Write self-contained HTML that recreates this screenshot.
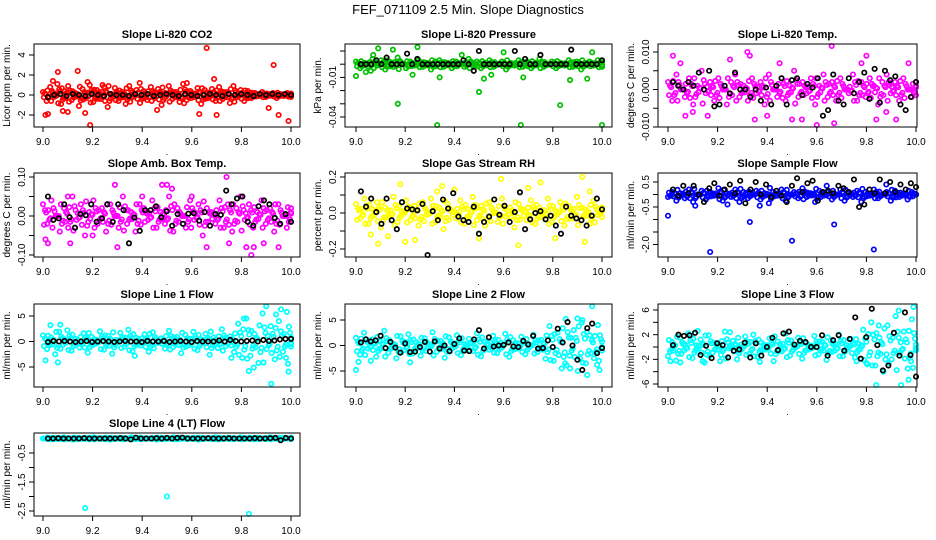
<!DOCTYPE html>
<html><head><meta charset="utf-8"><style>
html,body{margin:0;padding:0;background:#fff;}
svg{display:block;font-family:"Liberation Sans",Arial,sans-serif;}
</style></head><body>
<svg id="c" width="936" height="540" viewBox="0 0 936 540">
<text x="468" y="14" text-anchor="middle" font-size="13">FEF_071109  2.5 Min. Slope Diagnostics</text>
</svg>
<script>
// ---- data ----
const xTicks=[9.0,9.2,9.4,9.6,9.8,10.0];
const xTickLabels=["9.0","9.2","9.4","9.6","9.8","10.0"];
const titles=["Slope Li-820 CO2","Slope Li-820 Pressure","Slope Li-820 Temp.","Slope Amb. Box Temp.","Slope Gas Stream RH","Slope Sample Flow","Slope Line 1 Flow","Slope Line 2 Flow","Slope Line 3 Flow","Slope Line 4 (LT) Flow"];
const yLabels=["Licor ppm per min.","kPa per min.","degrees C per min.","degrees C per min.","percent per min.","ml/min per min.","ml/min per min.","ml/min per min.","ml/min per min.","ml/min per min."];
const colors=["#ff0000","#00c000","#ff00ff","#ff00ff","#ffff00","#0000ff","#00ffff","#00ffff","#00ffff","#00ffff"];
const yTicks=[[-2,0,2,4],[-0.04,-0.03,-0.02,-0.01,0,0.01],[-0.01,-0.005,0,0.005,0.01],[-0.1,-0.05,0,0.05,0.1],[-0.2,-0.1,0,0.1,0.2],[-2,-1.5,-1,-0.5,0,0.5],[-5,0,5],[-5,0,5],[-6,-4,-2,0,2,4,6],[-2.5,-2,-1.5,-1,-0.5]];
const yTickLabels=[["-2","0","2","4"],["-0.04","","","-0.01","",""],["-0.010","","0.000","","0.010"],["-0.10","","0.00","","0.10"],["-0.2","","0.0","","0.2"],["-2.0","","","-0.5","","0.5"],["-5","0","5"],["-5","0","5"],["-6","","-2","","2","","6"],["-2.5","","-1.5","","-0.5"]];

const co2Vals=[0.3,-0.6,0.8,-0.2,1.1,-0.9,0.4,0.9,-0.5,0.2,-1.1,0.6,-0.3,1.0,-0.7,0.5,-0.4,0.8,-1.2,0.1,0.7,-0.6,0.3,-0.9,0.9,-0.2,0.5,-0.8,0.4,-0.5,0.8,-0.3,0.6,-1.0,0.2,0.9,-0.4,0.3,-0.7,1.1,-0.5,0.4,-0.2,0.7,-0.9,0.5,-0.3,0.6,-0.6,0.8,-0.4,0.3,-0.8,0.9,-0.2,0.5,-0.6,0.4,-0.3,0.2,-0.1,0.3,-0.2,0.1,0.2,-0.3,0.1,-0.1,0.2,-0.2];
const co2OutX=[9.01,9.02,9.06,9.08,9.14,9.17,9.19,9.18,9.46,9.63,9.66,9.69,9.70,9.91,9.93,9.95,9.99,9.04,9.10,9.24,9.39,9.58];
const co2OutY=[-2.0,-1.9,2.3,-1.6,2.4,-1.8,-3.1,1.3,-1.5,-1.9,4.7,1.6,-2.0,-1.3,3.0,-2.0,-2.6,1.4,-1.7,1.0,1.2,1.2];
const co2Black=[-0.2,0,0.1,-0.1,0.1,0,-0.1,0.1,0,-0.1,0.1,0,0,-0.1,0.1,0,0.1,-0.1,0,0.1,0,-0.1,0.1,0,-0.1,0,0.1,0,-0.1,0.1,0,0.1,0,-0.1,0.1,0,0.1,0,0.1,0];

const presVals=[0.002,-0.003,0.001,-0.002,0.004,-0.001,0.003,-0.004,0.002,-0.002,0.005,0,-0.003,0.002,-0.001,0.003,-0.002,0.001,-0.004,0.002,0.003,-0.002,0.001,-0.003,0.002,0,-0.002,0.004,-0.001,0.002,-0.003,0.001,0.003,-0.002,0,0.002,-0.004,0.001,-0.001,0.003,-0.002,0.002,-0.003,0.001,0.004,-0.002,0,0.002,-0.003,0.001,-0.001,0.003,-0.002,0.002,-0.004,0.001,0.002,-0.001,0.003,-0.002];
const presOutX=[9.0,9.04,9.07,9.09,9.15,9.17,9.23,9.25,9.33,9.34,9.5,9.52,9.67,9.68,9.83,9.87,9.94,9.96,10.0,9.43,9.6,9.06,9.55];
const presOutY=[-0.009,-0.006,0.007,0.012,0.011,-0.03,-0.008,0.013,-0.048,-0.01,-0.021,-0.011,-0.048,-0.01,-0.031,-0.012,-0.011,0.009,-0.048,0.007,0.009,-0.005,-0.008];
const presBlack=[0,0,0,0.003,0,0.005,0,0,0,0.008,0,0.004,0,0,0,0,0,0,0,0,0.003,0,-0.005,0.01,0,0,0,0,0,0,0.01,0,0.004,0,0,0.007,0,0,0,0,0,0.011,0,0,0,0,0,0.003];

const tempVals=[0.002,-0.003,0.004,0,-0.002,0.003,-0.004,0.001,0.005,-0.001,0.002,-0.003,0.003,0,-0.004,0.002,0.004,-0.002,0.001,-0.003,0.003,-0.001,0.002,-0.004,0.004,0,-0.002,0.003,-0.003,0.001,0.005,-0.002,0.002,-0.001,0.003,-0.004,0.001,0.004,-0.002,0.002,-0.003,0.003,0,-0.001,0.004,-0.003,0.002,-0.002,0.003,0.001,-0.004,0.002,0.004,-0.001,0.002,-0.003,0.003,0,-0.002,0.002];
const tempOutX=[9.02,9.05,9.07,9.16,9.32,9.33,9.35,9.4,9.5,9.54,9.6,9.66,9.67,9.78,9.8,9.84,9.92,9.97,9.1,9.25,9.45,9.88];
const tempOutY=[0.009,0.007,-0.007,-0.007,0.01,0.009,-0.008,-0.007,-0.008,-0.008,-0.01,0.012,-0.009,0.007,0.009,-0.008,-0.008,0.007,-0.006,0.008,0.007,-0.006];
const tempBlack=[0.002,0.001,0,0.002,0.001,0.0045,0,0.005,-0.0045,-0.004,0.001,-0.001,0.0045,0,0,-0.002,0,-0.003,0.0005,-0.004,0.001,0.003,-0.004,0.0025,0.003,-0.0015,0.0015,0.0005,0.003,-0.007,-0.0055,0.004,-0.003,-0.004,0.003,-0.001,0.002,0.0045,-0.0025,0.0055,-0.0035,0.005,0.0025,0.0035,-0.004,-0.0055,-0.002,0.002];

const ambVals=[0.03,-0.02,0.04,0,-0.04,0.02,-0.03,0.05,-0.01,0.03,-0.05,0.01,0.04,-0.02,0.02,-0.04,0.03,0,-0.03,0.05,-0.02,0.01,-0.04,0.03,0.02,-0.01,0.04,-0.03,0.01,-0.02,0.05,-0.04,0.02,0,-0.03,0.04,-0.01,0.03,-0.05,0.02,0.01,-0.02,0.04,-0.03,0.03,-0.04,0.02,0.05,-0.01,0.03,-0.03,0.01,0.04,-0.02,0.02,-0.04,0.03,0,-0.03,0.02];
const ambOutX=[9.01,9.02,9.11,9.29,9.3,9.48,9.5,9.52,9.66,9.74,9.75,9.82,9.84,9.85,9.89,9.95,9.1,9.4,9.6,9.2];
const ambOutY=[-0.06,-0.07,-0.07,0.08,-0.08,0.08,0.08,0.07,-0.08,0.1,-0.07,-0.08,-0.1,-0.08,-0.07,-0.08,0.05,0.05,0.05,-0.05];
const ambBlack=[0.05,-0.01,-0.006,0.03,-0.003,-0.03,0.005,0.002,0.03,-0.015,-0.006,0.03,-0.015,0.03,0.015,-0.07,-0.004,-0.038,0.015,0.015,0.025,-0.003,0.012,-0.025,0.005,-0.02,0.006,0.007,-0.012,0.01,-0.025,0.005,0.003,0.065,0.03,0.045,0.05,-0.015,-0.025,0.025,0.04,0.03,-0.005,-0.02,0.005,-0.015];

const rhVals=[0.05,-0.03,0.08,-0.06,0.02,0.06,-0.08,0.03,-0.02,0.09,-0.05,0.01,0.07,-0.04,0.04,-0.07,0.06,-0.01,0.08,-0.05,0.03,-0.09,0.05,0.01,-0.03,0.07,-0.06,0.02,0.09,-0.04,0.04,-0.07,0.06,0,-0.05,0.08,-0.02,0.03,-0.08,0.05,0.02,-0.04,0.07,-0.06,0.03,-0.02,0.08,-0.05,0.01,0.06,-0.07,0.04,-0.03,0.09,-0.04,0.02,-0.06,0.07,-0.01,0.03];
const rhOutX=[9.06,9.09,9.18,9.2,9.24,9.33,9.35,9.59,9.66,9.75,9.81,9.92,9.93,9.95,9.13,9.4,9.5,9.7];
const rhOutY=[-0.12,-0.17,0.16,-0.16,-0.15,0.12,0.15,0.19,-0.18,0.17,-0.14,0.2,-0.16,0.12,-0.13,0.13,-0.14,0.14];
const rhBlack=[0.12,0.035,0.08,0.005,-0.06,0.08,-0.04,-0.09,0.06,0.025,0.02,0.015,0.05,-0.24,0.01,-0.04,0.075,0.025,0.11,-0.02,-0.04,-0.05,0.035,-0.115,-0.05,-0.02,0.075,-0.01,0.04,-0.05,0.005,0.115,-0.09,-0.035,0,0.01,-0.035,-0.015,-0.07,-0.115,0.035,-0.015,-0.03,-0.04,-0.07,-0.015,0.08,0.02];

const flowVals=[-0.1,0.1,-0.25,0.05,-0.15,0.2,-0.3,0,0.15,-0.2,0.1,-0.05,0.25,-0.25,0.05,-0.1,0.2,-0.3,0.1,-0.15,0,0.15,-0.2,0.05,-0.35,0.1,-0.05,0.2,-0.25,0,0.1,-0.15,0.25,-0.1,0.05,-0.3,0.15,-0.05,0.1,-0.2,0,0.2,-0.25,0.05,-0.1,0.15,-0.3,0.1,-0.05,0.2,-0.15,0,0.1,-0.25,0.15,-0.1,0.05,-0.2,0.1,0];
const flowOutX=[9.0,9.17,9.33,9.5,9.67,9.83,9.11,9.24,9.37,9.64,9.88];
const flowOutY=[-0.85,-2.3,-1.1,-1.85,-1.2,-2.2,-0.45,-0.4,-0.45,0.35,0.4];
const flowBlack=[0.2,-0.05,0.35,0.05,0.35,0,-0.3,0.25,0.45,-0.05,0.2,0.4,0.05,0.55,-0.35,0.2,0.5,0,0.4,-0.1,0.15,-0.05,-0.3,0.35,0.65,0.1,0.45,0.55,-0.25,0.1,0.15,0.05,0.35,0.25,0.1,0.6,-0.5,-0.4,0.2,0.05,0.6,0.05,0.5,0.1,0.4,0.2,0.45,0.3];

const l1Vals=[1.2,-1.5,0.8,-2.5,1.9,-0.6,2.2,-1.8,0.5,-1.2,1.6,-2.2,0.9,-0.4,2.0,-1.6,1.1,-2.4,0.3,1.7,-1.0,2.3,-1.9,0.7,-0.8,1.4,-2.0,1.8,-0.3,0.6,-1.4,2.1,-1.1,0.9,-2.3,1.3,-0.7,1.9,-1.7,0.4,1.5,-2.6,0.8,-1.3,2.4,-0.9,1.0,-2.1,3.5,-3.2,4.5,-2.8,1.5,-4.2,5.5,-1.5,3.0,-3.5,4.0,-2.0,5.8,-1.0];
const l1OutX=[9.01,9.03,9.06,9.07,9.37,9.76,9.81,9.83,9.85,9.9,9.92,9.94,9.96,9.98,9.99];
const l1OutY=[-3.7,3.2,-4.1,3.3,-2.8,-3.2,4.5,-5.8,-5.1,6.9,-8.3,5.3,6.3,-3.2,-5.9];
const l1Black=[-0.1,0.1,0,0.1,0,-0.1,0,0.1,-0.1,0,0.1,0,-0.1,0,0.1,0,0,-0.1,0.1,0,0,0.1,-0.1,0,0.1,0,-0.1,0.1,0,0,0,0.2,0,0.3,0.1,0,0.1,0.2,0,0.3,0.1,0.2,0.4,0.5,0.5];

const l2Vals=[1.5,-1.8,2.5,-0.6,1.2,-2.2,0.8,2.9,-1.4,0.4,-2.5,1.8,-0.9,2.2,-1.6,0.6,-2.0,1.4,-0.3,2.6,-1.2,0.9,-2.4,1.6,-0.5,2.0,-1.9,0.3,1.3,-1.1,2.4,-2.1,0.7,-0.8,1.9,-1.5,0.5,2.3,-2.2,1.0,-0.6,1.7,-1.7,0.2,2.1,-1.3,1.1,-2.6,3.8,-3.0,2.5,-4.5,5.2,-2.0,3.0,-5.0,4.5,-3.5,2.0,-2.5,4.0,-1.0];
const l2OutX=[9.0,9.01,9.06,9.22,9.85,9.87,9.9,9.92,9.94,9.96,9.99,9.98];
const l2OutY=[-4.8,-3.2,-3.0,-3.3,-3.5,-4.5,5.3,5.0,-5.8,7.7,-4.8,-3.8];
const l2Black=[0.6,1.2,0.8,1.0,1.9,-0.5,0.7,-0.4,-1.4,0.4,-1.3,-1.2,-0.3,0.7,-1.2,0.8,-0.6,0.0,-1.1,0.3,1.4,-1.0,-1.1,1.2,3.0,-0.6,1.6,-0.2,0.0,0.1,0.6,-0.2,-0.3,0.9,0.2,1.9,-0.6,-0.5,1.0,-0.3,3.3,0.6,4.6,0.0,-2.8,-4.8,3.4,4.3,-1.5,-0.5];

const l3Vals=[-1.5,0.8,-2.2,1.5,-0.5,2.2,-1.8,0.3,1.2,-2.5,1.9,-0.9,0.6,-1.3,2.5,-0.2,1.0,-2.0,0.4,1.7,-1.1,2.0,-1.6,0.7,-0.4,1.4,-2.3,0.9,-0.7,2.2,-1.4,0.2,1.5,-1.9,0.6,-0.3,1.8,-1.2,0.8,-2.1,1.1,-0.6,2.0,-1.5,0.3,1.3,-1.7,0.5,2.8,-2.8,4.0,-3.0,1.5,-4.0,3.5,-2.0,5.0,-1.0,2.5,-3.5,4.5,-0.5];
const l3OutX=[9.01,9.05,9.12,9.14,9.21,9.25,9.37,9.76,9.8,9.84,9.85,9.93,9.94,9.97,9.99,9.98];
const l3OutY=[-2.3,-2.5,2.6,-2.3,-2.3,2.4,-2.4,-2.3,-2.6,-6.2,3.5,5.9,-6.3,-5.3,6.5,-2.3];
const l3Black=[0.3,2.0,1.8,1.9,2.3,-1.3,0.2,-1.8,0.6,0.3,-1.7,-0.6,-0.4,0.7,-1.7,0.6,-1.4,0.0,1.5,-0.5,2.2,2.5,0.4,1.0,0.8,0.0,0.0,1.9,-1.4,1.1,1.9,-0.6,1.3,4.8,-1.9,1.6,6.2,0.3,-3.8,-3.0,2.3,-1.4,5.6,-1.3,-4.8];

const l4Vals=[0.0,0.03,-0.03,0.02,-0.02,0.04,0.0,-0.04,0.03,-0.01,0.02,-0.03,0.04,0.0,-0.02,0.03,-0.04,0.01,0.02,-0.03,0.0,0.04,-0.02,0.03,-0.01,0.0,0.02,-0.04,0.03,-0.02,0.01,0.04,-0.03,0.0,0.02,-0.01,0.03,-0.04,0.02,0.0,-0.02,0.04,-0.03,0.01,0.03,-0.02,0.0,0.04,-0.01,0.02,-0.03,0.03,0.0,-0.02,0.04,0.01,-0.03,0.02,0.0,0.03];
const l4OutX=[9.17,9.5,9.83];
const l4OutY=[-2.4,-2.0,-2.6];
const l4Black=[0,0,0.01,0,0,0,0,0.01,0,0,0,0,0,0,0.01,0,-0.03,0.03,0,0,0,0.01,0,0.02,0,0.02,0.03,0,0,0,0,0.01,0,0,0,0.01,0,0,0,0,0.01,0,0,0.01,0.02,-0.06,0.02,0];

const mainVals=[co2Vals,presVals,tempVals,ambVals,rhVals,flowVals,l1Vals,l2Vals,l3Vals,l4Vals];
const outXs=[co2OutX,presOutX,tempOutX,ambOutX,rhOutX,flowOutX,l1OutX,l2OutX,l3OutX,l4OutX];
const outYs=[co2OutY,presOutY,tempOutY,ambOutY,rhOutY,flowOutY,l1OutY,l2OutY,l3OutY,l4OutY];
const blackVals=[co2Black,presBlack,tempBlack,ambBlack,rhBlack,flowBlack,l1Black,l2Black,l3Black,l4Black];

// ---- layout (pixel geometry, not data) ----
const cols=[{l:34,r:300,x0:43,x1:291},{l:345,r:612,x0:356,x1:602},{l:658,r:917,x0:668,x1:916}];
const rows=[{t:44,b:127},{t:173,b:257},{t:304,b:387},{t:433,b:516}];
const yMap=[[4,55,-2,115],[0.01,51,-0.04,117],[0.01,52,-0.01,127],[0.1,177,-0.1,255],[0.2,177,-0.2,249],[0.5,182,-2,244.5],[5,316,-5,367],[5,320,-5,371],[6,310,-6,384],[-0.5,453,-2.5,511]];
// band-density replicas: [value scale, x offset fraction]
const replicas=[[1,0],[0.5,0.5],[-0.75,0.25],[0.3,0.75]];

const NS="http://www.w3.org/2000/svg";
const svg=document.getElementById('c');
function mk(tag,attrs,parent){const e=document.createElementNS(NS,tag);for(const k in attrs)e.setAttribute(k,attrs[k]);(parent||svg).appendChild(e);return e;}

for(let p=0;p<10;p++){
  const col=cols[p%3], row=rows[Math.floor(p/3)];
  const m=yMap[p];
  const ys=v=>m[1]+(v-m[0])*(m[3]-m[1])/(m[2]-m[0]);
  const xs=v=>col.x0+(v-9)*(col.x1-col.x0);
  const g=mk('g',{});
  
  
  const cx=(col.l+col.r)/2;
  const t=mk('text',{x:cx,y:row.t-6,'text-anchor':'middle','font-size':'11','font-weight':'bold'},g);
  t.textContent=titles[p];
  
  
  const pts=mk('g',{fill:'none','stroke-width':'1.7'},g);
  
  
  const clip=v=>Math.max(row.t+2,Math.min(row.b-2,v));
  const mv=mainVals[p];
  const n=mv.length;
  replicas.forEach(rp=>{
    mv.forEach((v,i)=>{
      const c=mk('circle',{cx:xs(9+Math.min(1,(i+rp[1])/(n-1))),cy:clip(ys(v*rp[0])),r:2.2,stroke:colors[p]},pts);
      
      
    });
  });
  outXs[p].forEach((x,i)=>{
    const c=mk('circle',{cx:xs(x),cy:clip(ys(outYs[p][i])),r:2.2,stroke:colors[p]},pts);
    
    
  });
  const bv=blackVals[p];
  bv.forEach((v,i)=>{
    const c=mk('circle',{cx:xs(9.02+0.98*i/(bv.length-1)),cy:clip(ys(v)),r:2.2,stroke:'#000'},pts);
    
    
  });
  const box=mk('rect',{x:col.l,y:row.t,width:col.r-col.l,height:row.b-row.t,fill:'none',stroke:'#000','stroke-width':'1'},g);
  
  
  const xa=mk('g',{},g);
  
  
  xTicks.forEach((v,i)=>{
    mk('line',{x1:xs(v),x2:xs(v),y1:row.b,y2:row.b+5,stroke:'#000'},xa);
    const tl=mk('text',{x:xs(v),y:row.b+18,'text-anchor':'middle','font-size':'10'},xa);
    tl.textContent=xTickLabels[i];
    
    
  });
  const dot=mk('text',{x:cx,y:row.b+28,'text-anchor':'middle','font-size':'9'},xa);
  dot.textContent='.';
  const ya=mk('g',{},g);
  
  
  yTicks[p].forEach((v,i)=>{
    const y=ys(v);
    mk('line',{x1:col.l-5,x2:col.l,y1:y,y2:y,stroke:'#000'},ya);
    const lab=yTickLabels[p][i];
    if(lab){
      const tl=mk('text',{x:0,y:0,'text-anchor':'middle','font-size':'10',transform:`translate(${col.l-9},${y}) rotate(-90)`},ya);
      tl.textContent=lab;
      
      
    }
  });
  const yl=mk('text',{x:0,y:0,'text-anchor':'middle','font-size':'10',transform:`translate(${col.l-24},${(row.t+row.b)/2}) rotate(-90)`},ya);
  yl.textContent=yLabels[p];
  
  
}
</script>
</body></html>
